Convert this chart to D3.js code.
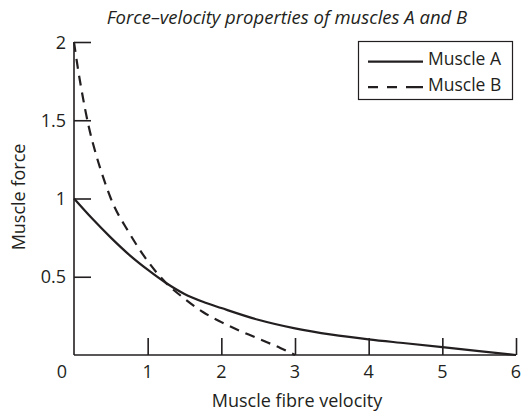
<!DOCTYPE html>
<html>
<head>
<meta charset="utf-8">
<script src="https://cdn.jsdelivr.net/npm/d3@7"></script>
<style>
  body { margin: 0; background: #fff; }
  svg { display: block; font-family: "Open Sans", "Noto Sans", sans-serif; }
</style>
</head>
<body>
<div class="chart"></div>
<script>
// values
const velocityA = [0, 0.25, 0.5, 0.75, 1, 1.25, 1.5, 1.75, 2, 2.5, 3, 3.5, 4, 4.5, 5, 5.5, 6]
const forceA = [1, 0.87, 0.75, 0.64, 0.545, 0.46, 0.39, 0.34, 0.30, 0.225, 0.17, 0.13, 0.10, 0.075, 0.05, 0.025, 0]
const velocityB = [0, 0.05, 0.1, 0.2, 0.3, 0.4, 0.5, 0.75, 1, 1.25, 1.5, 1.75, 2, 2.5, 2.8, 3]
const forceB = [2, 1.84, 1.70, 1.46, 1.28, 1.13, 1.0, 0.78, 0.60, 0.46, 0.36, 0.275, 0.21, 0.105, 0.045, 0]
const xTicks = [1, 2, 3, 4, 5, 6]
const yTicks = [0.5, 1, 1.5, 2]
const seriesNames = ["Muscle A", "Muscle B"]

const width = 524
const height = 413
const margin = {top: 42, right: 8, bottom: 58, left: 74}
const ink = "#231f20"

const svg = d3.select(".chart")
  .append("svg")
    .attr("width", width)
    .attr("height", height)

const x = d3.scaleLinear().domain([0, 6]).range([margin.left, width - margin.right])
const y = d3.scaleLinear().domain([0, 2]).range([height - margin.bottom, margin.top])

// axes, ticks pointing inward
const xAxis = d3.axisTop(x).tickValues(xTicks).tickSize(17).tickFormat("")
svg.append("g")
    .attr("transform", `translate(0,${y(0)})`)
    .call(xAxis)
    .call(g => g.select(".domain").attr("d", `M${x(0)},0H${x(6)}`))

const yAxis = d3.axisRight(y).tickValues(yTicks).tickSize(17).tickFormat("")
svg.append("g")
    .attr("transform", `translate(${x(0)},0)`)
    .call(yAxis)
    .call(g => g.select(".domain").attr("d", `M0,${y(0)}V${y(2)}`))

svg.selectAll(".domain, .tick line")
    .attr("stroke", ink)
    .attr("stroke-width", 1.6)

// tick labels
svg.append("g")
  .selectAll("text")
  .data(xTicks)
  .join("text")
    .attr("x", d => x(d))
    .attr("y", y(0) + 23)
    .attr("text-anchor", "middle")
    .attr("font-size", 18)
    .attr("fill", ink)
    .text(d => d)

svg.append("g")
  .selectAll("text")
  .data(yTicks)
  .join("text")
    .attr("x", x(0) - 8)
    .attr("y", d => y(d) + 6.5)
    .attr("text-anchor", "end")
    .attr("font-size", 18)
    .attr("fill", ink)
    .text(d => d)

svg.append("text")
    .attr("x", x(0) - 12)
    .attr("y", y(0) + 23)
    .attr("text-anchor", "middle")
    .attr("font-size", 18)
    .attr("fill", ink)
    .text("0")

// curves
const line = d3.line()
  .x(d => x(d[0]))
  .y(d => y(d[1]))
  .curve(d3.curveMonotoneX)

const dataA = velocityA.map((v, i) => [v, forceA[i]])
const dataB = velocityB.map((v, i) => [v, forceB[i]])

svg.append("path")
    .datum(dataA)
    .attr("d", line)
    .attr("fill", "none")
    .attr("stroke", ink)
    .attr("stroke-width", 2.2)

svg.append("path")
    .datum(dataB)
    .attr("d", line)
    .attr("fill", "none")
    .attr("stroke", ink)
    .attr("stroke-width", 2.2)
    .attr("stroke-dasharray", "10,7")

// title and axis labels
svg.append("text")
    .attr("x", 287)
    .attr("y", 24)
    .attr("text-anchor", "middle")
    .attr("font-size", 18.5)
    .attr("font-style", "italic")
    .attr("fill", ink)
    .text("Force\u2013velocity properties of muscles A and B")

svg.append("text")
    .attr("x", 297)
    .attr("y", 407)
    .attr("text-anchor", "middle")
    .attr("font-size", 18)
    .attr("fill", ink)
    .text("Muscle fibre velocity")

svg.append("text")
    .attr("transform", `translate(25,197) rotate(-90)`)
    .attr("text-anchor", "middle")
    .attr("font-size", 18)
    .attr("fill", ink)
    .text("Muscle force")

// legend
const legend = svg.append("g")
legend.append("rect")
    .attr("x", 358.5)
    .attr("y", 41.5)
    .attr("width", 154)
    .attr("height", 58)
    .attr("fill", "#fff")
    .attr("stroke", ink)
    .attr("stroke-width", 1.2)

seriesNames.forEach((name, i) => {
  const cy = 61.7 + i * 25.5
  legend.append("line")
      .attr("x1", 368)
      .attr("x2", 423)
      .attr("y1", cy)
      .attr("y2", cy)
      .attr("stroke", ink)
      .attr("stroke-width", 2.2)
      .attr("stroke-dasharray", i === 1 ? "10,9,10,9,17" : null)
  legend.append("text")
      .attr("x", 428)
      .attr("y", cy + 3.5)
      .attr("font-size", 17.5)
      .attr("fill", ink)
      .text(name)
})
</script>
</body>
</html>
